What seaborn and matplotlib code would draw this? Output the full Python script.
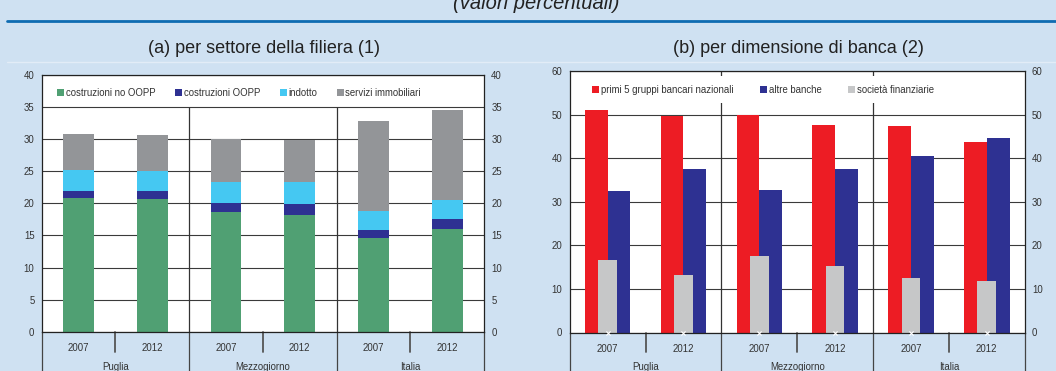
import numpy as np
import pandas as pd
import seaborn as sns
import matplotlib
matplotlib.use("Agg")
import matplotlib.pyplot as plt
from matplotlib.patches import Patch
from matplotlib.lines import Line2D

# ---------------- data ----------------
regions = ["Puglia", "Mezzogiorno", "Italia"]
years = ["2007", "2012"]
categories = [f"{r} {y}" for r in regions for y in years]

# panel (a): stacked shares by sector
costr_no_oopp = [20.9, 20.7, 18.6, 18.25, 14.6, 16.0]
costr_oopp = [1.0, 1.2, 1.45, 1.7, 1.3, 1.5]
indotto = [3.3, 3.1, 3.35, 3.35, 2.9, 3.0]
servizi_immobiliari = [5.6, 5.7, 6.6, 6.55, 14.0, 14.0]
series_a_names = ["costruzioni no OOPP", "costruzioni OOPP", "indotto", "servizi immobiliari"]

# panel (b): by bank size
primi5 = [51.1, 49.6, 50.0, 47.5, 47.3, 43.6]
altre_banche = [32.5, 37.5, 32.7, 37.6, 40.4, 44.7]
societa_fin = [16.6, 13.1, 17.6, 15.15, 12.4, 11.8]
series_b_names = ["primi 5 gruppi bancari nazionali", "altre banche", "società finanziarie"]
baseline_marks = [0, 0, 0, 0, 0, 0]

yticks_a = [0, 5, 10, 15, 20, 25, 30, 35, 40]
yticks_b = [0, 10, 20, 30, 40, 50, 60]

# ---------------- style ----------------
BG = "#cfe1f2"
cols_a = ["#50a073", "#2e3192", "#45c8f2", "#939598"]
cols_b = ["#ed1c24", "#2e3192", "#c6c7c8"]
TXT = "#333333"
FS = 6.9

sns.set_theme(style="white")
plt.rcParams["font.family"] = ["Liberation Sans", "DejaVu Sans"]

W, H = 1056, 371
fig = plt.figure(figsize=(W / 100, H / 100), dpi=100, facecolor=BG)


def px_axes(x0, x1, ytop, ybot):
    return fig.add_axes([x0 / W, 1 - ybot / H, (x1 - x0) / W, (ybot - ytop) / H])


axA = px_axes(41.7, 484, 75, 331.7)
axB = px_axes(569.7, 1024.7, 71, 332.5)

# ---- panel (a): stacked bars via cumulative layers ----
layers = [costr_no_oopp, costr_oopp, indotto, servizi_immobiliari]
cums = np.cumsum(np.array(layers), axis=0)
for i in range(len(layers) - 1, -1, -1):
    sns.barplot(x=categories, y=list(cums[i]), color=cols_a[i], width=0.42,
                saturation=1, errorbar=None, linewidth=0, ax=axA)

# ---- panel (b): dodged red/blue + overlaid grey ----
dfb = pd.DataFrame({
    "cat": categories * 2,
    "val": primi5 + altre_banche,
    "serie": [series_b_names[0]] * 6 + [series_b_names[1]] * 6,
})
sns.barplot(data=dfb, x="cat", y="val", hue="serie", palette=cols_b[:2], width=0.6,
            saturation=1, errorbar=None, linewidth=0, legend=False, ax=axB)
sns.barplot(x=categories, y=societa_fin, color=cols_b[2], width=0.247,
            saturation=1, errorbar=None, linewidth=0, ax=axB)
axB.scatter(range(6), baseline_marks, marker="x", color="white", s=9, linewidths=0.8,
            zorder=6, clip_on=False)


def style_axes(ax, yt, ytop, ybot, sep_top):
    ax.set_facecolor("white")
    ax.set_xlim(-0.5, 5.5)
    ax.set_ylim(yt[0], yt[-1])
    ax.set_yticks(yt)
    ax.set_xlabel("")
    ax.set_ylabel("")
    ax.set_axisbelow(True)
    ax.yaxis.grid(True, color="#3a3a3a", lw=0.8)
    ax.xaxis.grid(False)
    for s in ax.spines.values():
        s.set_color("#222222")
        s.set_linewidth(0.9)
    ax.tick_params(axis="y", left=True, right=True, labelleft=True, labelright=True,
                   length=0, pad=5.2, labelsize=FS, labelcolor=TXT)
    ax.set_xticks(range(6))
    ax.set_xticklabels(years * 3)
    ax.tick_params(axis="x", length=0, pad=8.2, labelsize=FS, labelcolor=TXT)
    # separators inside the plot
    ax.vlines([1.5, 3.5], 0, sep_top, color="#333333", lw=0.9, zorder=0.8)
    # separators in the label area
    hpx = ybot - ytop
    tr = ax.get_xaxis_transform()
    for xv in [-0.5, 1.5, 3.5, 5.5]:
        ax.plot([xv, xv], [0, -(H - ybot + 2) / hpx], transform=tr, color="#444444",
                lw=0.9, clip_on=False)
    for xv in [0.5, 2.5, 4.5]:
        ax.plot([xv, xv], [0, -(352 - ybot) / hpx], transform=tr, color="#555555",
                lw=1.3, clip_on=False)
    for k, r in enumerate(regions):
        ax.annotate(r, xy=(2 * k + 0.5, 0), xycoords=tr, xytext=(0, -(366.5 - ybot) * 0.72),
                    textcoords="offset points", ha="center", va="center",
                    fontsize=FS, color=TXT, annotation_clip=False)


style_axes(axA, yticks_a, 75, 331.7, 35)
style_axes(axB, yticks_b, 71, 332.5, 60)

# legends
hA = [Patch(facecolor=c, edgecolor="none") for c in cols_a]
legA = axA.legend(hA, series_a_names, loc="center left", bbox_to_anchor=(0.035, 0.93),
                  ncol=4, frameon=False, fontsize=FS, handlelength=0.75, handleheight=0.75,
                  handletextpad=0.15, columnspacing=2.05, borderpad=0, borderaxespad=0)
for t in legA.get_texts():
    t.set_color(TXT)

hB = [Patch(facecolor=c, edgecolor="none") for c in cols_b]
legB = axB.legend(hB, series_b_names, loc="center left", bbox_to_anchor=(0.03, 0.929),
                  ncol=3, frameon=True, fontsize=FS, handlelength=0.75, handleheight=0.75,
                  handletextpad=0.15, columnspacing=2.8, borderpad=0.9, borderaxespad=0,
                  facecolor="white", edgecolor="none", framealpha=1, fancybox=False)
legB.get_frame().set_linewidth(0)
legB.set_zorder(5)
for t in legB.get_texts():
    t.set_color(TXT)

# titles & header
fig.text(264 / W, 1 - 48.5 / H, "(a) per settore della filiera (1)", ha="center", va="center",
         fontsize=13, color="#222222")
fig.text(798 / W, 1 - 48.5 / H, "(b) per dimensione di banca (2)", ha="center", va="center",
         fontsize=13, color="#222222")
fig.text(536 / W, 1 - 3.5 / H, "(valori percentuali)", ha="center", va="center",
         fontsize=14.5, style="italic", color="#222222")
fig.add_artist(Line2D([7 / W, 1], [1 - 20.7 / H] * 2, color="#0f6cb2", lw=2))
fig.add_artist(Line2D([7 / W, 1], [1 - 62 / H] * 2, color="#e2ecf7", lw=1))

fig.savefig("out.png", dpi=100, facecolor=BG)
